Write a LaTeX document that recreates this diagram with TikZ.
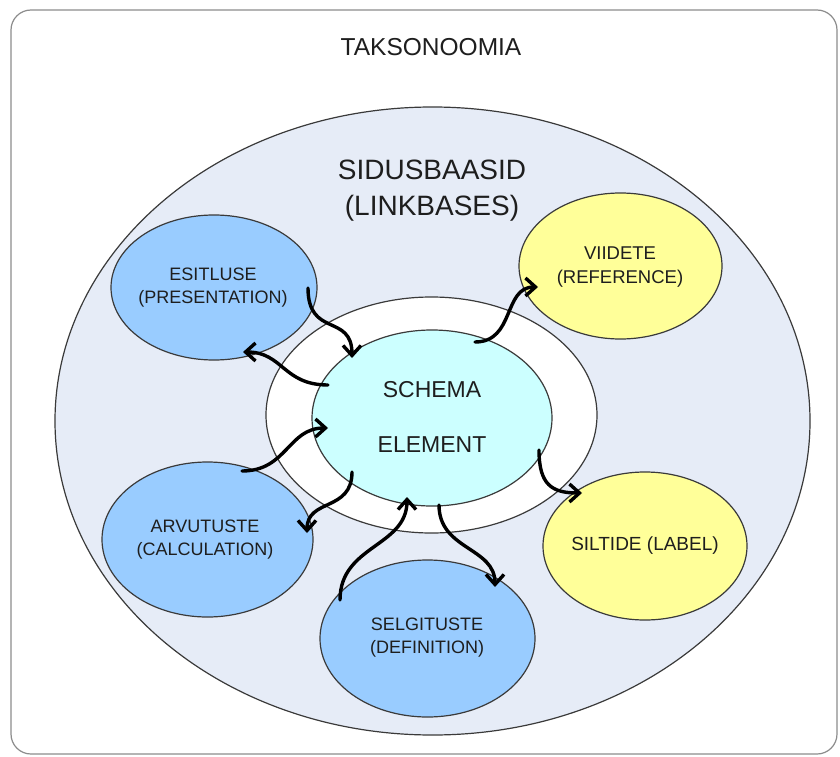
\documentclass[tikz,border=0pt]{standalone}
\usepackage{fontspec}
\setmainfont{Liberation Sans}
\usetikzlibrary{shapes.geometric, arrows.meta}

\definecolor{ringbg}{HTML}{E6ECF7}
\definecolor{linkblue}{HTML}{99CCFF}
\definecolor{linkyellow}{HTML}{FFFF99}
\definecolor{schemacyan}{HTML}{CCFFFF}
\definecolor{edgegray}{HTML}{3A3A3A}
\definecolor{framegray}{HTML}{8C8C8C}
\definecolor{txt}{HTML}{1E1E1E}

\begin{document}
\begin{tikzpicture}[x=1pt,y=-1pt,line cap=round,
    >={Straight Barb[length=10pt,width=18pt]},
    blob/.style={ellipse, draw=edgegray, line width=1.2pt, inner sep=0pt},
    lbl/.style={text=txt, align=center, inner sep=0pt, font=\fontsize{18}{23}\selectfont},
    wave/.style={->, line width=3.4pt, black}]

    % page and outer frame
    \fill[white] (0,0) rectangle (840,757);
    \useasboundingbox (0,0) rectangle (840,757);
    \draw[framegray, line width=1.2pt, rounded corners=20pt] (11,10) rectangle (837,754);
    \node[text=txt, font=\fontsize{24.5}{30}\selectfont] (taksonoomia) at (431,47) {TAKSONOOMIA};

    % the linkbases ellipse
    \node[blob, fill=ringbg, minimum width=755pt, minimum height=628pt] (linkbases) at (432.5,421) {};
    \node[lbl, font=\fontsize{28}{36}\selectfont] (linkbases-t) at (432,191) {SIDUSBAASID\\(LINKBASES)};

    % white ring and schema element
    \node[blob, fill=white, minimum width=331pt, minimum height=236pt] (ring) at (431.5,415) {};
    \node[blob, fill=schemacyan, minimum width=240pt, minimum height=176pt] (schema) at (432,418) {};
    \node[lbl, font=\fontsize{23}{55}\selectfont] (schema-t) at (432,417) {SCHEMA\\ELEMENT};

    % blue linkbases
    \node[blob, fill=linkblue, minimum width=206pt, minimum height=145pt] (esitluse) at (214,287.5) {};
    \node[lbl] (esitluse-t) at (213,288) {ESITLUSE\\(PRESENTATION)};

    \node[blob, fill=linkblue, minimum width=211pt, minimum height=155pt] (arvutuste) at (207.5,539.5) {};
    \node[lbl] (arvutuste-t) at (205,540) {ARVUTUSTE\\(CALCULATION)};

    \node[blob, fill=linkblue, minimum width=215pt, minimum height=157pt] (selgituste) at (427.5,638.5) {};
    \node[lbl] (selgituste-t) at (427,638) {SELGITUSTE\\(DEFINITION)};

    % yellow linkbases
    \node[blob, fill=linkyellow, minimum width=203pt, minimum height=146pt] (viidete) at (620.5,266) {};
    \node[lbl, font=\fontsize{18.5}{24}\selectfont] (viidete-t) at (620,267) {VIIDETE\\(REFERENCE)};

    \node[blob, fill=linkyellow, minimum width=204pt, minimum height=148pt] (siltide) at (645,546) {};
    \node[lbl, font=\fontsize{19}{24}\selectfont] (siltide-t) at (645,546) {SILTIDE (LABEL)};

    % wavy arrows to and from the schema
    \draw[wave] ([shift={(94,0.5)}]esitluse.center) .. controls +(0,50) and +(0,-45) .. ([shift={(-80,-60)}]schema.center);
    \draw[wave] ([shift={(-104,-33)}]schema.center) .. controls +(-45,0) and +(40,0) .. ([shift={(29,64.5)}]esitluse.center);
    \draw[wave] ([shift={(34.5,-68.5)}]arvutuste.center) .. controls +(45,0) and +(-40,0) .. ([shift={(-104,10)}]schema.center);
    \draw[wave] ([shift={(-80,54)}]schema.center) .. controls +(0,40) and +(0,-35) .. ([shift={(99.5,-6.5)}]arvutuste.center);
    \draw[wave] ([shift={(-87.5,-38.5)}]selgituste.center) .. controls +(0,-55) and +(0,50) .. ([shift={(-25,79)}]schema.center);
    \draw[wave] ([shift={(7,87)}]schema.center) .. controls +(0,45) and +(0,-40) .. ([shift={(67.5,-51.5)}]selgituste.center);
    \draw[wave] ([shift={(107,32)}]schema.center) .. controls +(0,35) and +(-30,0) .. ([shift={(-63,-53)}]siltide.center);
    \draw[wave] ([shift={(43,-76)}]schema.center) .. controls +(40,0) and +(-35,0) .. ([shift={(-82.5,21)}]viidete.center);
\end{tikzpicture}
\end{document}
